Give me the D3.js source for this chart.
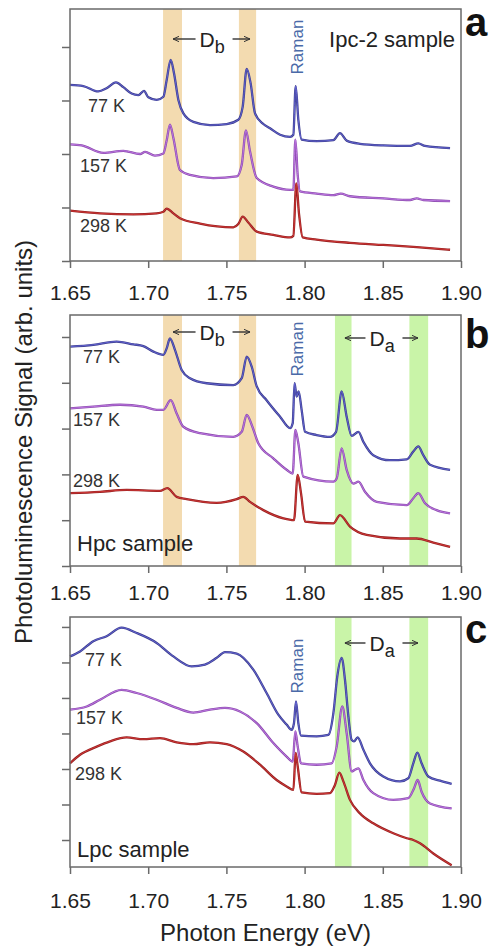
<!DOCTYPE html>
<html>
<head>
<meta charset="utf-8">
<script src="https://cdn.jsdelivr.net/npm/d3@7"></script>
<style>
  body { margin: 0; background: #fff; }
  svg { display: block; }
  text { font-family: "Liberation Sans", Arial, sans-serif; }
</style>
</head>
<body>
<svg id="chart" width="491" height="952"></svg>
<script>
// ---- data -------------------------------------------------------------
const energyTicks = [1.65, 1.70, 1.75, 1.80, 1.85, 1.90];
const temperatureLabels = ["77 K", "157 K", "298 K"];
const sampleNames = ["Ipc-2 sample", "Hpc sample", "Lpc sample"];
const panelLetters = ["a", "b", "c"];
const dbBands = [[1.7095, 1.7216], [1.758, 1.769]];
const daBands = [[1.8194, 1.8300], [1.867, 1.879]];

// Ipc-2 sample spectra: [photon energy (eV), PL signal (arb. units)]
const ipc77 = [[1.6500,3.29],[1.6585,3.27],[1.6681,3.17],[1.6734,3.23],[1.6794,3.34],[1.6841,3.25],[1.6894,3.13],[1.6937,3.10],[1.6973,3.18],[1.7001,3.06],[1.7054,3.01],[1.7097,3.07],[1.7118,3.38],[1.7144,3.76],[1.7165,3.51],[1.7193,3.01],[1.7225,2.76],[1.7289,2.60],[1.7395,2.54],[1.7502,2.56],[1.7576,2.64],[1.7604,2.88],[1.7630,3.59],[1.7655,3.32],[1.7683,2.76],[1.7736,2.56],[1.7779,2.48],[1.7843,2.36],[1.7907,2.32],[1.7928,2.36],[1.7943,3.27],[1.7960,2.64],[1.7981,2.27],[1.8077,2.24],[1.8184,2.26],[1.8226,2.39],[1.8269,2.25],[1.8354,2.19],[1.8503,2.16],[1.8674,2.15],[1.8727,2.20],[1.8770,2.15],[1.8930,2.11]];
const ipc157 = [[1.6500,2.18],[1.6575,2.16],[1.6713,2.02],[1.6841,2.06],[1.6948,2.00],[1.6980,2.04],[1.7043,1.97],[1.7097,2.01],[1.7118,2.25],[1.7139,2.55],[1.7161,2.30],[1.7203,1.70],[1.7267,1.61],[1.7416,1.55],[1.7566,1.58],[1.7598,1.80],[1.7625,2.44],[1.7651,2.05],[1.7694,1.55],[1.7800,1.39],[1.7907,1.33],[1.7928,1.33],[1.7941,2.27],[1.7956,1.60],[1.7971,1.30],[1.8077,1.26],[1.8184,1.23],[1.8231,1.26],[1.8290,1.21],[1.8503,1.17],[1.8674,1.14],[1.8717,1.17],[1.8759,1.14],[1.8930,1.12]];
const ipc298 = [[1.6500,0.94],[1.6692,0.89],[1.6905,0.87],[1.7054,0.89],[1.7097,0.92],[1.7118,0.98],[1.7161,0.89],[1.7203,0.80],[1.7331,0.70],[1.7544,0.63],[1.7576,0.69],[1.7604,0.83],[1.7640,0.72],[1.7694,0.55],[1.7800,0.49],[1.7907,0.44],[1.7928,0.47],[1.7947,1.45],[1.7964,0.89],[1.7988,0.44],[1.8077,0.40],[1.8290,0.34],[1.8503,0.30],[1.8717,0.26],[1.8930,0.21]];

// Hpc sample spectra
const hpc77 = [[1.6500,4.79],[1.6649,4.83],[1.6798,4.90],[1.6905,4.84],[1.6969,4.80],[1.7033,4.68],[1.7097,4.61],[1.7118,4.75],[1.7139,4.97],[1.7171,4.72],[1.7214,4.28],[1.7267,4.10],[1.7374,3.99],[1.7544,3.95],[1.7598,4.10],[1.7630,4.57],[1.7662,4.35],[1.7694,3.92],[1.7757,3.62],[1.7843,3.26],[1.7907,3.01],[1.7924,3.12],[1.7936,3.99],[1.7949,3.70],[1.7962,3.81],[1.7981,3.41],[1.8003,2.93],[1.8077,2.86],[1.8162,2.82],[1.8201,2.93],[1.8237,3.81],[1.8269,3.26],[1.8301,2.84],[1.8344,2.93],[1.8376,2.71],[1.8439,2.42],[1.8546,2.31],[1.8653,2.33],[1.8695,2.50],[1.8727,2.61],[1.8759,2.42],[1.8802,2.21],[1.8930,2.10]];
const hpc157 = [[1.6500,3.44],[1.6649,3.48],[1.6820,3.52],[1.6969,3.48],[1.7054,3.41],[1.7097,3.41],[1.7144,3.62],[1.7182,3.33],[1.7225,3.04],[1.7331,2.90],[1.7544,2.82],[1.7598,2.93],[1.7630,3.30],[1.7662,3.08],[1.7704,2.68],[1.7800,2.35],[1.7885,2.10],[1.7924,2.02],[1.7941,2.97],[1.7960,2.68],[1.7992,1.95],[1.8184,1.84],[1.8205,1.91],[1.8237,2.57],[1.8269,2.10],[1.8312,1.80],[1.8344,1.84],[1.8386,1.62],[1.8461,1.40],[1.8653,1.33],[1.8695,1.48],[1.8727,1.59],[1.8770,1.37],[1.8844,1.22],[1.8930,1.15]];
const hpc298 = [[1.6500,1.59],[1.6692,1.62],[1.6862,1.66],[1.7075,1.64],[1.7122,1.70],[1.7182,1.51],[1.7246,1.46],[1.7438,1.38],[1.7566,1.46],[1.7608,1.51],[1.7651,1.40],[1.7736,1.22],[1.7864,1.04],[1.7932,1.00],[1.7956,1.99],[1.7977,1.59],[1.8003,0.97],[1.8184,0.93],[1.8226,1.11],[1.8290,0.86],[1.8397,0.68],[1.8610,0.60],[1.8717,0.60],[1.8823,0.51],[1.8930,0.42]];

// Lpc sample spectra
const lpc77 = [[1.6500,6.17],[1.6564,6.31],[1.6649,6.60],[1.6734,6.74],[1.6830,6.98],[1.6926,6.83],[1.7054,6.55],[1.7161,6.17],[1.7278,5.89],[1.7363,5.94],[1.7438,6.13],[1.7491,6.29],[1.7566,6.25],[1.7672,5.80],[1.7757,5.14],[1.7832,4.53],[1.7885,4.25],[1.7917,4.10],[1.7932,4.29],[1.7945,4.90],[1.7960,4.29],[1.7977,3.94],[1.8077,3.92],[1.8152,3.96],[1.8184,4.57],[1.8209,5.61],[1.8237,6.13],[1.8258,5.52],[1.8280,4.48],[1.8301,3.82],[1.8316,3.78],[1.8339,3.89],[1.8376,3.54],[1.8418,3.16],[1.8503,2.79],[1.8610,2.65],[1.8663,2.74],[1.8695,3.16],[1.8721,3.46],[1.8748,3.16],[1.8791,2.79],[1.8866,2.67],[1.8940,2.58]];
const lpc157 = [[1.6500,4.67],[1.6607,4.76],[1.6692,4.95],[1.6830,5.23],[1.6926,5.14],[1.7054,4.95],[1.7182,4.72],[1.7289,4.59],[1.7395,4.67],[1.7491,4.72],[1.7587,4.62],[1.7694,4.29],[1.7800,3.73],[1.7885,3.35],[1.7924,3.21],[1.7941,4.06],[1.7956,3.63],[1.7977,3.16],[1.8077,3.12],[1.8173,3.16],[1.8205,3.63],[1.8241,4.76],[1.8269,4.01],[1.8301,2.93],[1.8322,2.98],[1.8344,3.02],[1.8376,2.69],[1.8439,2.32],[1.8567,2.13],[1.8663,2.18],[1.8700,2.46],[1.8723,2.69],[1.8748,2.36],[1.8802,2.03],[1.8940,1.89]];
const lpc298 = [[1.6500,3.16],[1.6564,3.40],[1.6671,3.63],[1.6756,3.78],[1.6862,3.89],[1.6969,3.84],[1.7075,3.87],[1.7182,3.75],[1.7289,3.70],[1.7395,3.75],[1.7502,3.70],[1.7608,3.49],[1.7715,3.12],[1.7821,2.69],[1.7885,2.51],[1.7928,2.41],[1.7943,3.45],[1.7956,3.07],[1.7981,2.34],[1.8077,2.30],[1.8162,2.32],[1.8194,2.55],[1.8222,2.90],[1.8248,2.65],[1.8290,2.13],[1.8354,1.75],[1.8439,1.47],[1.8567,1.19],[1.8653,1.05],[1.8695,1.00],[1.8738,0.91],[1.8823,0.62],[1.8940,0.29]];

// ---- layout & styles ----------------------------------------------------
const plotLeft = 70, plotRight = 461;
const lineStyles = [
  { outer: "#3d3e8e", inner: "#6666d8" },   // 77 K
  { outer: "#8c4cae", inner: "#c27ae6" },   // 157 K
  { outer: "#952020", inner: "#d63a3a" }    // 298 K
];
const bandColor = { db: "#f3dbb0", da: "#c9f4a8" };

const panels = [
  { top: 9, bottom: 261, yDomain: [0, 4.71], yTicks: [0, 1, 2, 3, 4], tickPad: 17,
    series: [ipc77, ipc157, ipc298], bands: dbBands, bandColor: bandColor.db, extraBands: [],
    tempPos: [[1.6615, 2.79], [1.6564, 1.66], [1.6564, 0.54]],
    sample: { anchor: "end", x: 455, y: 47 }, letterY: 36, ramanY: 47,
    arrows: [{ label: "b", from: 1.7159, to: 1.7651, y: 39 }] },
  { top: 315, bottom: 566, yDomain: [0, 5.48], yTicks: [0, 1, 2, 3, 4, 5], tickPad: 12,
    series: [hpc77, hpc157, hpc298], bands: dbBands, bandColor: bandColor.db, extraBands: daBands,
    tempPos: [[1.6583, 4.43], [1.6519, 3.06], [1.6519, 1.72]],
    sample: { anchor: "start", x: 77, y: 551 }, letterY: 348, ramanY: 349,
    arrows: [{ label: "b", from: 1.7159, to: 1.7651, y: 332 },
             { label: "a", from: 1.8258, to: 1.8725, y: 338 }] },
  { top: 617, bottom: 867, yDomain: [0.24, 7.28], yTicks: [1, 2, 3, 4, 5, 6, 7], tickPad: 19,
    series: [lpc77, lpc157, lpc298], bands: [], bandColor: bandColor.db, extraBands: daBands,
    tempPos: [[1.6596, 5.90], [1.6538, 4.27], [1.6532, 2.69]],
    sample: { anchor: "start", x: 77, y: 857 }, letterY: 643, ramanY: 666,
    arrows: [{ label: "a", from: 1.8258, to: 1.8725, y: 643 }] }
];

const svg = d3.select("#chart");
const x = d3.scaleLinear().domain([1.65, 1.90]).range([plotLeft, plotRight]);

const defs = svg.append("defs");
["left", "right"].forEach(dir => {
  defs.append("marker")
    .attr("id", "head-" + dir)
    .attr("viewBox", "0 0 10 10")
    .attr("refX", dir === "left" ? 1 : 9).attr("refY", 5)
    .attr("markerWidth", 7).attr("markerHeight", 7)
    .attr("markerUnits", "userSpaceOnUse")
    .attr("orient", "auto")
    .append("path")
    .attr("d", dir === "left" ? "M10,1 L1,5 L10,9" : "M0,1 L9,5 L0,9")
    .attr("fill", "none").attr("stroke", "#333").attr("stroke-width", 1.4);
});

panels.forEach((p, i) => {
  const y = d3.scaleLinear().domain(p.yDomain).range([p.bottom, p.top]);
  const g = svg.append("g");

  // highlighted energy windows
  p.bands.concat(p.extraBands).forEach(b => {
    const isDa = p.extraBands.includes(b);
    g.append("rect")
      .attr("x", x(b[0])).attr("width", x(b[1]) - x(b[0]))
      .attr("y", p.top).attr("height", p.bottom - p.top)
      .attr("fill", isDa ? bandColor.da : p.bandColor);
  });

  // spectra
  const line = d3.line().x(d => x(d[0])).y(d => y(d[1])).curve(d3.curveMonotoneX);
  p.series.forEach((s, k) => {
    g.append("path").datum(s).attr("d", line)
      .attr("fill", "none").attr("stroke", lineStyles[k].outer)
      .attr("stroke-width", 2.3).attr("stroke-linejoin", "round");
    g.append("path").datum(s).attr("d", line)
      .attr("fill", "none").attr("stroke", lineStyles[k].inner)
      .attr("stroke-width", 0.9).attr("stroke-linejoin", "round");
  });

  // frame
  g.append("rect")
    .attr("x", plotLeft).attr("y", p.top)
    .attr("width", plotRight - plotLeft).attr("height", p.bottom - p.top)
    .attr("fill", "none").attr("stroke", "#6a6a6a").attr("stroke-width", 1.5);

  // axes
  const yAxis = g.append("g").attr("transform", `translate(${plotLeft},0)`)
    .call(d3.axisLeft(y).tickValues(p.yTicks).tickSize(8).tickSizeOuter(0).tickFormat(""));
  yAxis.select(".domain").remove();
  yAxis.selectAll(".tick line").attr("stroke", "#6a6a6a").attr("stroke-width", 1.5);

  const xAxis = g.append("g").attr("transform", `translate(0,${p.bottom})`)
    .call(d3.axisBottom(x).tickValues(energyTicks).tickSize(7).tickSizeOuter(0)
      .tickPadding(p.tickPad).tickFormat(d3.format(".2f")));
  xAxis.select(".domain").remove();
  xAxis.selectAll(".tick line").attr("stroke", "#6a6a6a").attr("stroke-width", 1.5);
  xAxis.selectAll(".tick text")
    .attr("font-size", 21).attr("fill", "#222")
    .style("font-family", '"Liberation Sans", Arial, sans-serif');

  // temperature labels
  temperatureLabels.forEach((t, k) => {
    g.append("text")
      .attr("x", x(p.tempPos[k][0])).attr("y", y(p.tempPos[k][1]))
      .attr("font-size", 18).attr("fill", "#333").text(t);
  });

  // sample name
  g.append("text")
    .attr("x", p.sample.x).attr("y", p.sample.y)
    .attr("text-anchor", p.sample.anchor)
    .attr("font-size", 22).attr("fill", "#222").text(sampleNames[i]);

  // panel letter
  g.append("text")
    .attr("x", 465).attr("y", p.letterY)
    .attr("font-size", 40).attr("font-weight", "bold").attr("fill", "#111")
    .text(panelLetters[i]);

  // Raman line marker
  g.append("text")
    .attr("transform", `translate(${x(1.7990)},${p.ramanY}) rotate(-90)`)
    .attr("text-anchor", "middle")
    .attr("font-size", 17).attr("fill", "#4a6aa8").text("Raman");

  // Da / Db spacing arrows
  p.arrows.forEach(a => {
    const x0 = x(a.from), x1 = x(a.to);
    const mid = (x0 + x1) / 2;
    const label = g.append("text")
      .attr("x", mid - 12).attr("y", a.y + 8)
      .attr("font-size", 21).attr("fill", "#222");
    label.append("tspan").text("D");
    label.append("tspan").attr("font-size", 18).attr("dy", 6).text(a.label);
    g.append("line")
      .attr("x1", mid - 16).attr("x2", x0).attr("y1", a.y).attr("y2", a.y)
      .attr("stroke", "#333").attr("stroke-width", 1.4)
      .attr("marker-end", "url(#head-right)");
    g.append("line")
      .attr("x1", mid + 21).attr("x2", x1).attr("y1", a.y).attr("y2", a.y)
      .attr("stroke", "#333").attr("stroke-width", 1.4)
      .attr("marker-end", "url(#head-right)");
  });
});

// axis titles
svg.append("text")
  .attr("x", (plotLeft + plotRight) / 2).attr("y", 941)
  .attr("text-anchor", "middle").attr("font-size", 24).attr("fill", "#222")
  .text("Photon Energy (eV)");

svg.append("text")
  .attr("transform", "translate(32,442) rotate(-90)")
  .attr("text-anchor", "middle").attr("font-size", 24).attr("fill", "#222")
  .text("Photoluminescence Signal (arb. units)");
</script>
</body>
</html>
